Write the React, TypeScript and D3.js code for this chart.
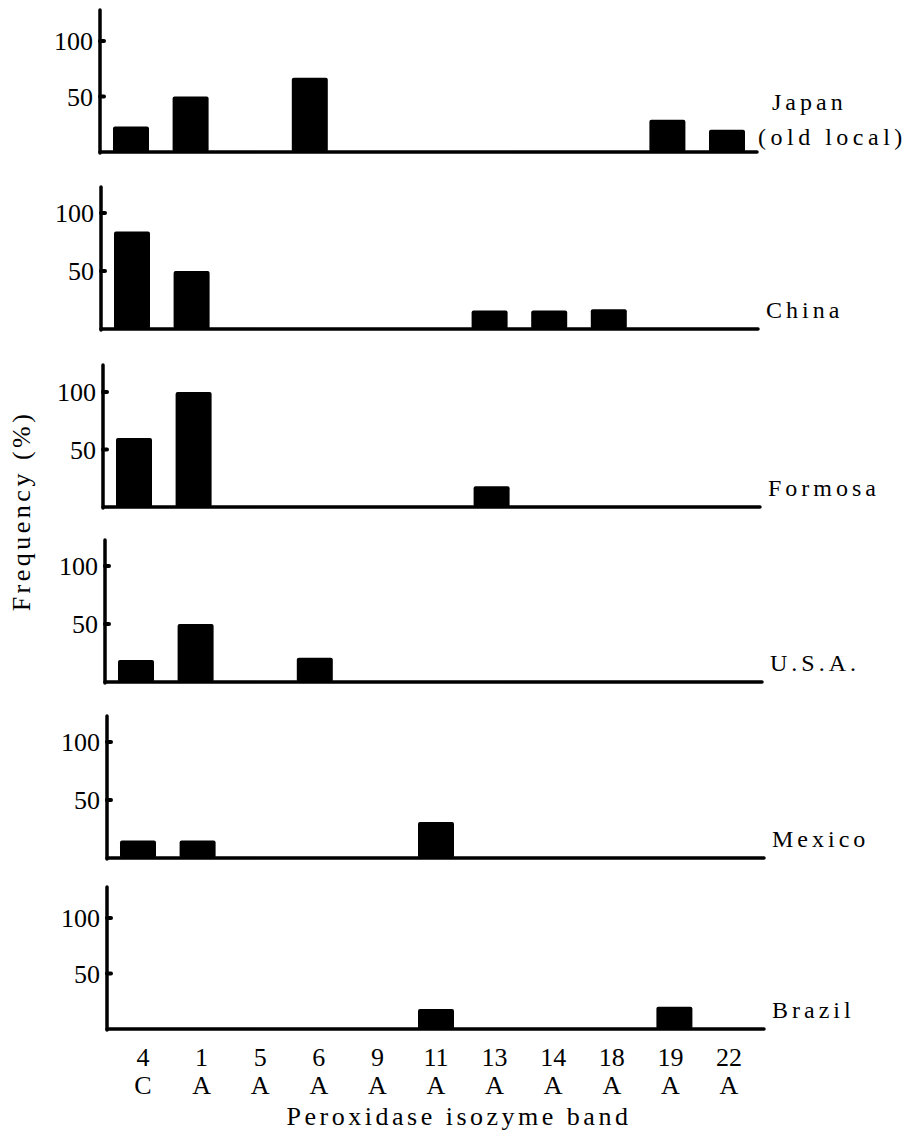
import React from "react";
import * as d3 from "d3";

const categories = ["4C", "1A", "5A", "6A", "9A", "11A", "13A", "14A", "18A", "19A", "22A"];
const bandNumbers = ["4", "1", "5", "6", "9", "11", "13", "14", "18", "19", "22"];
const bandLetters = ["C", "A", "A", "A", "A", "A", "A", "A", "A", "A", "A"];
const yTicks = [50, 100];

const regions = ["Japan", "China", "Formosa", "U.S.A.", "Mexico", "Brazil"];
const japan = [23, 50, 0, 67, 0, 0, 0, 0, 0, 29, 20];
const china = [84, 50, 0, 0, 0, 0, 16, 16, 17, 0, 0];
const formosa = [60, 100, 0, 0, 0, 0, 18, 0, 0, 0, 0];
const usa = [19, 50, 0, 21, 0, 0, 0, 0, 0, 0, 0];
const mexico = [15, 15, 0, 0, 0, 31, 0, 0, 0, 0, 0];
const brazil = [0, 0, 0, 0, 0, 18, 0, 0, 0, 20, 0];

const seriesList = [japan, china, formosa, usa, mexico, brazil];

// layout (per panel, follows the slight drift of the scanned figure)
const axisXs = [100, 101, 103, 105, 107, 107];
const baselines = [152, 329, 507, 682, 858, 1029];
const px100s = [111, 116, 115, 116, 116, 111];

const FONT = "'Liberation Serif', 'Times New Roman', serif";

function Panel({ idx }: { idx: number }) {
  const ax = axisXs[idx];
  const base = baselines[idx];
  const y = d3.scaleLinear().domain([0, 100]).range([base, base - px100s[idx]]);
  const x = d3.scalePoint<string>().domain(categories).range([ax + 31, ax + 31 + 596]);
  const barW = 36;
  const vals = seriesList[idx];
  const top = base - 142;
  const right = ax + 657;
  return (
    <g>
      <line x1={ax} y1={top} x2={ax} y2={base + 1} stroke="#000" strokeWidth={3.5} strokeLinecap="round" />
      <line x1={ax} y1={base} x2={right} y2={base} stroke="#000" strokeWidth={3.5} strokeLinecap="round" />
      {yTicks.map((t) => (
        <g key={t}>
          <line x1={ax} x2={ax + 4} y1={y(t)} y2={y(t)} stroke="#000" strokeWidth={4} strokeLinecap="round" />
          <text x={ax - 7} y={y(t)} dy="0.35em" textAnchor="end" fontFamily={FONT} fontSize={26} fill="#000">
            {t}
          </text>
        </g>
      ))}
      {categories.map((c, i) =>
        vals[i] > 0 ? (
          <rect
            key={c}
            x={(x(c) as number) - barW / 2}
            y={y(vals[i])}
            width={barW}
            height={base - y(vals[i])}
            rx={2}
            fill="#000"
          />
        ) : null
      )}
      {idx === 0 ? (
        <g fontFamily={FONT} fontSize={24} fill="#000" letterSpacing={4}>
          <text x={772} y={base - 42}>Japan</text>
          <text x={758} y={base - 7} letterSpacing={4.5}>(old local)</text>
        </g>
      ) : (
        <text x={ax + 665} y={base - 11} fontFamily={FONT} fontSize={24} letterSpacing={4} fill="#000">
          {regions[idx]}
        </text>
      )}
    </g>
  );
}

export default function App() {
  const xl = d3.scalePoint<string>().domain(categories).range([143, 729]);
  return (
    <svg width={909} height={1133} style={{ display: "block", position: "absolute", left: 0, top: 0, background: "#fff" }}>
      <rect width={909} height={1133} fill="#fff" />
      {regions.map((r, i) => (
        <Panel key={r} idx={i} />
      ))}
      {categories.map((c, i) => (
        <g key={c} fontFamily={FONT} fontSize={26} fill="#000" textAnchor="middle">
          <text x={xl(c)} y={1066}>{bandNumbers[i]}</text>
          <text x={xl(c)} y={1094}>{bandLetters[i]}</text>
        </g>
      ))}
      <text x={459} y={1125} textAnchor="middle" fontFamily={FONT} fontSize={26} letterSpacing={3.5} fill="#000">
        Peroxidase isozyme band
      </text>
      <text
        transform="translate(30,511) rotate(-90)"
        textAnchor="middle"
        fontFamily={FONT}
        fontSize={26}
        letterSpacing={3.5}
        fill="#000"
      >
        Frequency (%)
      </text>
    </svg>
  );
}
